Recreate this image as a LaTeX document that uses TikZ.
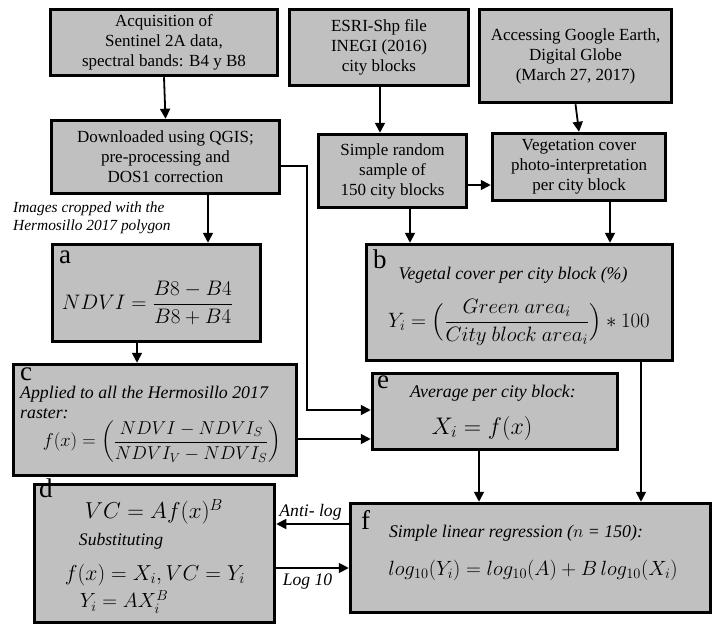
\RequirePackage{fix-cm}
\documentclass[tikz,border=0pt]{standalone}
\usepackage{fontspec}
\setmainfont{Liberation Serif}
\usepackage{amsmath}
\usetikzlibrary{arrows.meta}
\definecolor{boxgray}{HTML}{C0C0C0}
\tikzset{
  box/.style={draw=black, line width=3.5pt, fill=boxgray, inner sep=0pt, align=center,
    font=\fontsize{17}{20}\selectfont},
  arr/.style={line width=1.8pt, -{Triangle[length=10pt,width=10pt]}},
  lbl/.style={anchor=base west, inner sep=0pt, font=\fontsize{27}{27}\selectfont},
  itxt/.style={inner sep=0pt, align=left, font=\fontsize{17.8}{20}\selectfont\itshape},
  stxt/.style={inner sep=0pt, align=left, font=\fontsize{15.4}{18}\selectfont\itshape},
  ltxt/.style={inner sep=0pt, font=\fontsize{17.6}{20}\selectfont\itshape},
  mth/.style={inner sep=0pt},
}
\newcommand{\msz}[1]{\fontsize{#1}{#1}\selectfont}
\begin{document}
\begin{tikzpicture}[x=1pt,y=-1pt]
\useasboundingbox[fill=white] (0,0) rectangle (720,629);

% top boxes
\node[box, minimum width=227, minimum height=66] (n1) at (164,42.5) {Acquisition of\\Sentinel 2A data,\\spectral bands: B4 y B8};
\node[box, minimum width=228, minimum height=73] (n2) at (165.5,157) {Downloaded using QGIS;\\pre-processing and\\DOS1 correction};
\node[box, minimum width=179, minimum height=76] (n3) at (379,47.5) {ESRI-Shp file\\INEGI (2016)\\city blocks};
\node[box, minimum width=192, minimum height=93] (n4) at (575.5,56) {Accessing Google Earth,\\Digital Globe\\(March 27, 2017)};
\node[box, minimum width=148, minimum height=73] (n5) at (392.5,171) {Simple random\\sample of\\150 city blocks};
\node[box, minimum width=173, minimum height=67] (n6) at (579,167) {Vegetation cover\\photo-interpretation\\per city block};

\node[stxt, anchor=base west] (crop1) at (13,212) {Images cropped with the};
\node[stxt, anchor=base west] (crop2) at (13,230) {Hermosillo 2017 polygon};

% box a
\node[box, minimum width=208, minimum height=97] (na) at (156.5,293) {};
\node[lbl] (la) at (59,263) {a};
\node[mth, font=\msz{21}] (fa) at (147.5,303) {$NDVI=\dfrac{B8-B4}{B8+B4}$};

% box b
\node[box, minimum width=306, minimum height=116] (nb) at (519.5,302.5) {};
\node[lbl] (lb) at (373,268) {b};
\node[itxt] (tb) at (513,275) {Vegetal cover per city block (\%)};
\node[mth, font=\msz{20.8}] (fb) at (519,322.5) {$Y_i=\Bigl(\dfrac{Green\ area_i}{City\ block\ area_i}\Bigr)*100$};

% box c
\node[box, minimum width=283, minimum height=111] (nc) at (155,420) {};
\node[lbl] (lc) at (20,380) {c};
\node[itxt, anchor=base west] (tc1) at (20,398) {Applied to all the Hermosillo 2017};
\node[itxt, anchor=base west] (tc2) at (20,418) {raster:};
\node[mth, font=\msz{18.6}] (fc) at (162,442) {$f(x)=\biggl(\dfrac{NDVI-NDVI_S}{NDVI_V-NDVI_S}\biggr)$};

% box e
\node[box, minimum width=245, minimum height=76] (ne) at (495,411.5) {};
\node[lbl] (le) at (377,388) {e};
\node[itxt] (te) at (493,393) {Average per city block:};
\node[mth, font=\msz{24}] (fe) at (482,428) {$X_i=f(x)$};

% box d
\node[box, minimum width=240, minimum height=138] (nd) at (154.5,553.5) {};
\node[lbl] (ld) at (39,497) {d};
\node[mth, font=\msz{23}] (fd1) at (154,512) {$VC=Af(x)^B$};
\node[ltxt] (td) at (121,541) {Substituting};
\node[mth, font=\msz{21.7}] (fd2) at (155,575) {$f(x)=X_i,VC=Y_i$};
\node[mth, font=\msz{20.5}] (fd3) at (124,602) {$Y_i=AX_i^B$};

% box f
\node[box, minimum width=360, minimum height=109] (nf) at (530.5,558) {};
\node[lbl] (lf) at (361,529) {f};
\node[itxt] (tf) at (516,533) {Simple linear regression ($n$ = 150):};
\node[mth, font=\msz{20.6}] (ff) at (533,570) {$log_{10}(Y_i)=log_{10}(A)+B\,log_{10}(X_i)$};

% connectors
\draw[arr] (n1.south) -- (n2.north);
\draw[arr] (n3.south -| 380,0) -- (n5.north -| 380,0);
\draw[arr] (n4.south) -- (n6.north);
\draw[arr] (n5.east |- 0,185) -- (n6.west |- 0,185);
\draw[arr] (n2.south -| 208,0) -- (na.north -| 208,0);
\draw[arr] (n2.east |- 0,166) -| (307,410) -- (ne.west |- 0,410);
\draw[arr] (n5.south -| 410,0) -- (nb.north -| 410,0);
\draw[arr] (n6.south -| 610,0) -- (nb.north -| 610,0);
\draw[arr] (na.south -| 137,0) -- (nc.north -| 137,0);
\draw[arr] (nc.east |- 0,439) -- (ne.west |- 0,439);
\draw[arr] (nb.south -| 641,0) -- (nf.north -| 641,0);
\draw[arr] (ne.south -| 479,0) -- (nf.north -| 479,0);
\draw[arr] (nf.west |- 0,524) -- node[ltxt, above=3pt, xshift=-2pt] (al) {Anti- log} (nd.east |- 0,524);
\draw[arr] (nd.east |- 0,568) -- node[ltxt, below=5pt, xshift=-5pt] (lg) {Log 10} (nf.west |- 0,568);
\end{tikzpicture}
\end{document}
